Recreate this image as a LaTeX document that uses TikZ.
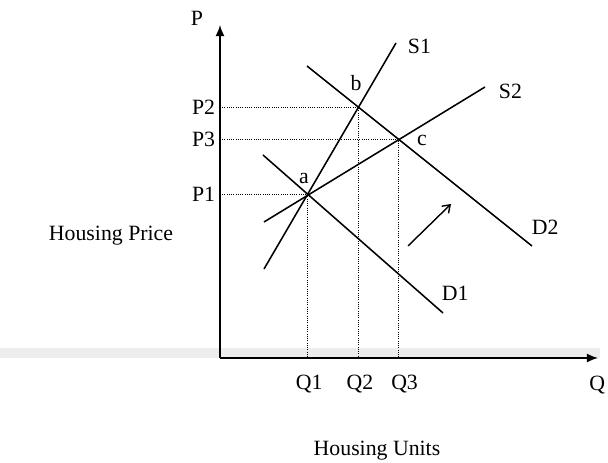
\documentclass[tikz,border=0pt]{standalone}
\usepackage{fontspec}
\setmainfont{Liberation Serif}
\usetikzlibrary{arrows.meta, positioning, calc}

\begin{document}
\begin{tikzpicture}[
    curve/.style={line width=1.1pt},
    guide/.style={line width=0.7pt, dash pattern=on 0.7pt off 0.9pt},
    axisline/.style={line width=1.1pt, -{Latex[length=8pt, width=6.5pt]}},
    lbl/.style={font=\fontsize{15.5}{18}\selectfont},
    shiftarr/.style={line width=1pt, -{Straight Barb[length=5pt, width=7pt]}}
]
\useasboundingbox (0,0) rectangle (15.2,11.575);

% Scan band along the quantity axis
\fill[gray!14] (0,2.62) rectangle (15.0,2.87);

% Origin and axis ends
\coordinate (O) at (5.5,2.625);
\coordinate (ptop) at (5.5,10.95);
\coordinate (qend) at (14.95,2.625);

% Supply and demand end points
\coordinate (s1lo) at (6.6,4.85);
\coordinate (s1hi) at (9.9,10.5);
\coordinate (s2lo) at (6.6,6.025);
\coordinate (s2hi) at (12.125,9.4);
\coordinate (d1hi) at (6.575,7.7);
\coordinate (d1lo) at (11.075,3.75);
\coordinate (d2hi) at (7.675,9.925);
\coordinate (d2lo) at (13.3,5.425);

% Equilibria
\coordinate (a) at (intersection of s1lo--s1hi and d1hi--d1lo);
\coordinate (b) at (intersection of s1lo--s1hi and d2hi--d2lo);
\coordinate (c) at (intersection of s2lo--s2hi and d2hi--d2lo);

% Feet on the axes
\coordinate (p1) at (a -| O);
\coordinate (p2) at (b -| O);
\coordinate (p3) at (c -| O);
\coordinate (q1) at (a |- O);
\coordinate (q2) at (b |- O);
\coordinate (q3) at (c |- O);

% Dotted guides
\draw[guide] (p1) -- (a) -- (q1);
\draw[guide] (p2) -- (b) -- (q2);
\draw[guide] (p3) -- (c) -- (q3);

% Axes
\draw[axisline] (O) -- (ptop);
\draw[axisline] (O) -- (qend);

% Curves
\draw[curve] (s1lo) -- (s1hi);
\draw[curve] (s2lo) -- (s2hi);
\draw[curve] (d1hi) -- (d1lo);
\draw[curve] (d2hi) -- (d2lo);

% Shift of demand
\coordinate (mvfrom) at (10.2,5.425);
\coordinate (mvto) at (11.275,6.475);
\draw[shiftarr] (mvfrom) -- (mvto);

% Curve labels
\node[lbl, anchor=west] (ls1) at (10.075,10.425) {S1};
\node[lbl, anchor=west] (ls2) at (12.35,9.3) {S2};
\node[lbl, anchor=west] (ld1) at (10.925,4.25) {D1};
\node[lbl, anchor=west] (ld2) at (13.175,5.9) {D2};

% Point labels
\node[lbl] (la) at (7.6,7.125) {a};
\node[lbl] (lb) at (8.9,9.5) {b};
\node[lbl] (lc) at (10.55,8.075) {c};

% Axis ticks
\node[lbl, anchor=east] (lp1) at (p1) {P1};
\node[lbl, anchor=east] (lp2) at (p2) {P2};
\node[lbl, anchor=east] (lp3) at (p3) {P3};
\node[lbl, below=0.3cm of q1, xshift=1pt] (lq1) {Q1};
\node[lbl, below=0.3cm of q2, xshift=1pt] (lq2) {Q2};
\node[lbl, below=0.3cm of q3, xshift=4pt] (lq3) {Q3};
\node[lbl] (lp) at (4.925,11.125) {P};
\node[lbl, anchor=east, inner sep=1pt] (lq) at (15.17,1.95) {Q};

% Axis titles
\node[lbl, anchor=east] (price) at (4.45,5.675) {Housing Price};
\node[lbl] (units) at (9.425,0.3) {Housing Units};

\end{tikzpicture}
\end{document}
